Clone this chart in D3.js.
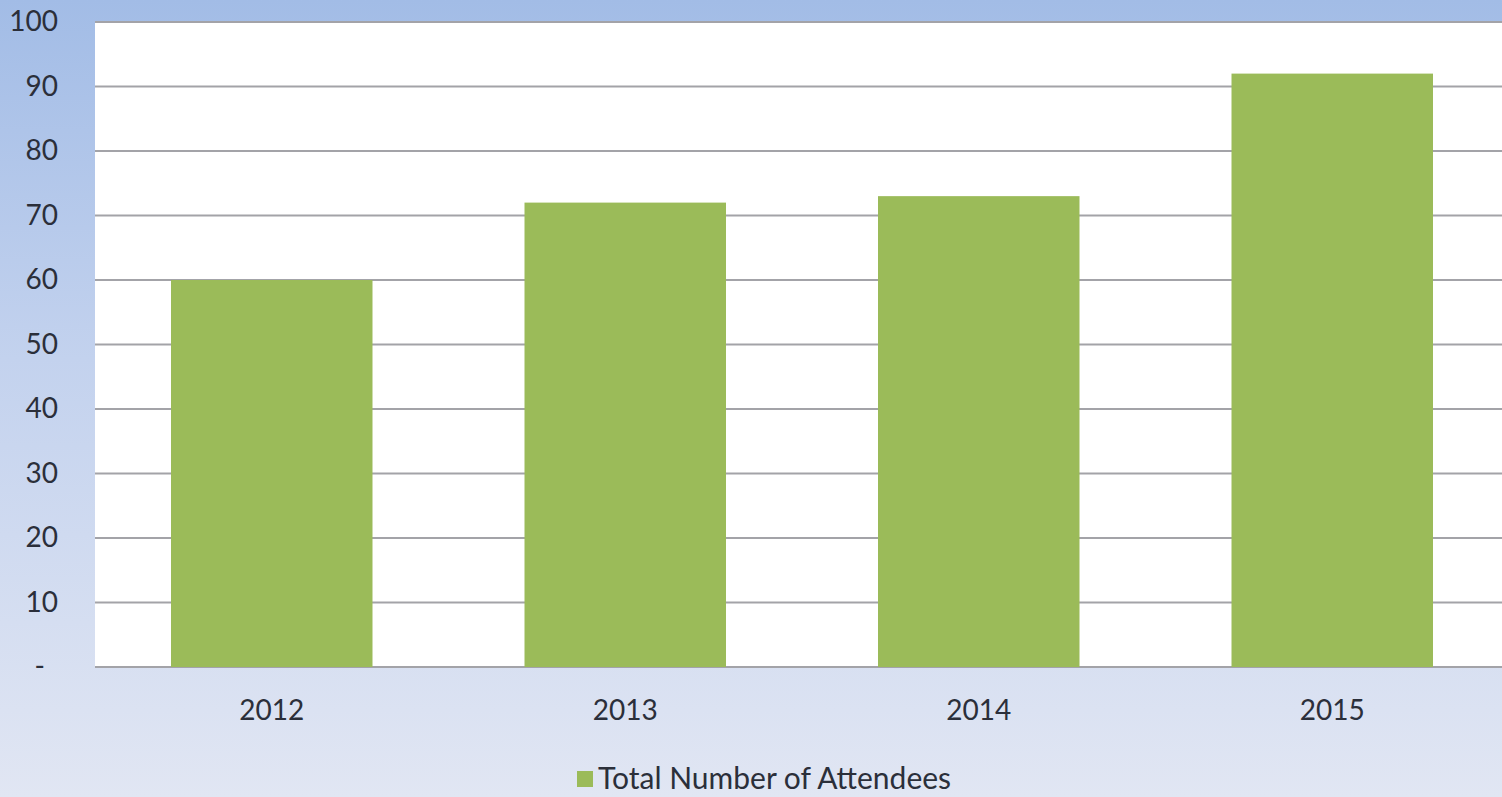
<!DOCTYPE html>
<html>
<head>
<meta charset="utf-8">
<script src="https://cdn.jsdelivr.net/npm/d3@7"></script>
<style>
  body { margin: 0; overflow: hidden; }
  text { font-family: Lato, "Open Sans", sans-serif; fill: #2b2f3a; }
</style>
</head>
<body>
<div id="viz-container"></div>
<script>
// chart data
const years = ['2012', '2013', '2014', '2015'];
const attendees = [60, 72, 73, 92];
const yTicks = [0, 10, 20, 30, 40, 50, 60, 70, 80, 90, 100];
const seriesName = 'Total Number of Attendees';

const W = 1502, H = 797;
const plotLeft = 95, plotRight = 1509, plotTop = 22, plotBottom = 667;

const viz = d3.select('#viz-container')
    .append('svg')
        .attr('width', W)
        .attr('height', H)
        .attr('id', 'viz');

// background gradient
const grad = viz.append('defs').append('linearGradient')
    .attr('id', 'bg')
    .attr('x1', 0).attr('y1', 0).attr('x2', 0).attr('y2', 1);
grad.append('stop').attr('offset', '0%').attr('stop-color', '#a2bce6');
grad.append('stop').attr('offset', '45%').attr('stop-color', '#c3d2ee');
grad.append('stop').attr('offset', '100%').attr('stop-color', '#e1e6f3');

viz.append('rect')
    .attr('width', W).attr('height', H)
    .attr('fill', 'url(#bg)');

const x = d3.scaleBand()
    .domain(years)
    .range([plotLeft, plotRight])
    .paddingInner(0.43)
    .paddingOuter(0.215);

const y = d3.scaleLinear()
    .domain([0, 100])
    .range([plotBottom, plotTop]);

// plot area
viz.append('rect')
    .attr('x', plotLeft).attr('y', plotTop)
    .attr('width', plotRight - plotLeft).attr('height', plotBottom - plotTop)
    .attr('fill', '#ffffff');

// gridlines
viz.append('g')
    .selectAll('line')
    .data(yTicks)
    .enter()
    .append('line')
        .attr('x1', plotLeft)
        .attr('x2', plotRight)
        .attr('y1', d => y(d))
        .attr('y2', d => y(d))
        .attr('stroke', '#a3a3a8')
        .attr('stroke-width', 2);

// bars
viz.append('g')
    .selectAll('rect')
    .data(attendees)
    .enter()
    .append('rect')
        .attr('fill', '#9bbb59')
        .attr('x', (d, i) => x(years[i]))
        .attr('width', x.bandwidth())
        .attr('y', d => y(d))
        .attr('height', d => y(0) - y(d));

// y axis
const yAxis = d3.axisLeft(y)
    .tickValues(yTicks)
    .tickSize(0)
    .tickPadding(0)
    .tickFormat(d => d === 0 ? '-' : d);

const gy = viz.append('g')
    .attr('transform', 'translate(58,0)')
    .call(yAxis);
gy.select('.domain').remove();
gy.selectAll('text')
    .attr('text-anchor', 'end')
    .attr('dx', d => d === 0 ? -13 : 0)
    .style('font-size', '28px')
    .attr('fill', '#2b2f3a');

// x axis
const xAxis = d3.axisBottom(x).tickSize(0).tickPadding(0);
const gx = viz.append('g')
    .attr('transform', 'translate(0,' + (plotBottom + 33) + ')')
    .call(xAxis);
gx.select('.domain').remove();
gx.selectAll('text')
    .style('font-size', '28px')
    .attr('fill', '#2b2f3a');

// legend
const legend = viz.append('g').attr('transform', 'translate(577,771)');
legend.append('rect')
    .attr('width', 16).attr('height', 16)
    .attr('fill', '#9bbb59');
legend.append('text')
    .attr('x', 21)
    .attr('y', 18)
    .style('font-size', '30px')
    .text(seriesName);
</script>
</body>
</html>
